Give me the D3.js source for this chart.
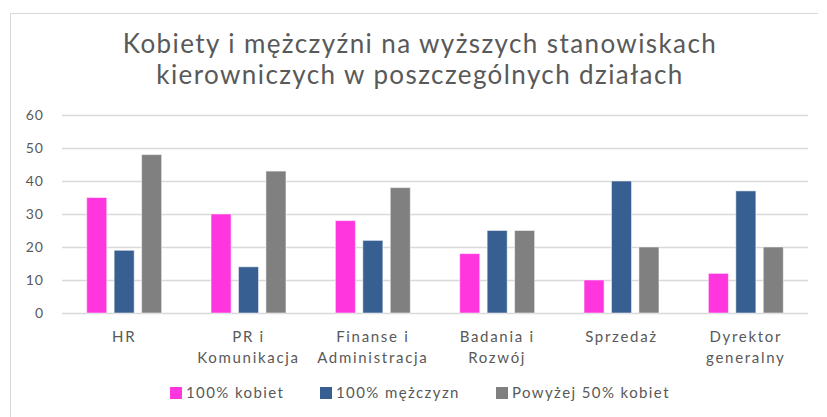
<!DOCTYPE html>
<html><head><meta charset="utf-8">
<script src="https://cdn.jsdelivr.net/npm/d3@7/dist/d3.min.js"></script>
<style>body{margin:0;background:#fff;} text{font-family:Lato,"Open Sans",sans-serif;}</style>
</head><body><svg id="c" width="827" height="417"></svg>
<script>
const categories = [["HR"],["PR i","Komunikacja"],["Finanse i","Administracja"],["Badania i","Rozwój"],["Sprzedaż"],["Dyrektor","generalny"]];
const seriesNames = ["100% kobiet","100% mężczyzn","Powyżej 50% kobiet"];
const women100 = [35,30,28,18,10,12];
const men100 = [19,14,22,25,40,37];
const womenOver50 = [48,43,38,25,20,20];
const yTicks = [0,10,20,30,40,50,60];
const colors = ["#FF35DE","#375F91","#808080"];
const titleLines = ["Kobiety i mężczyźni na wyższych stanowiskach","kierowniczych w poszczególnych działach"];

const svg = d3.select("#c");
const series = [women100, men100, womenOver50];
// frame
svg.append("line").attr("x1",10).attr("x2",818).attr("y1",13.5).attr("y2",13.5).attr("stroke","#d9d9d9");
svg.append("line").attr("x1",10.5).attr("x2",10.5).attr("y1",13).attr("y2",417).attr("stroke","#d9d9d9");

const x = d3.scaleBand().domain(d3.range(categories.length)).range([62,808]).paddingInner(0).paddingOuter(0);
const y = d3.scaleLinear().domain([0,60]).range([313,115]);
const inner = d3.scaleBand().domain([0,1,2]).range([0,x.bandwidth()]).paddingInner(0.27).paddingOuter(0.9);

// grid
svg.append("g").selectAll("line").data(yTicks).join("line")
  .attr("x1",62).attr("x2",808).attr("y1",d=>y(d)+0.5).attr("y2",d=>y(d)+0.5)
  .attr("stroke","#d9d9d9").attr("stroke-width",1.3);
svg.append("g").selectAll("text").data(yTicks).join("text")
  .attr("x",44).attr("y",d=>y(d)+5).attr("text-anchor","end")
  .attr("font-size",14).attr("letter-spacing",1).attr("fill","#595959").text(d=>d);

// bars
series.forEach((s,si)=>{
  svg.append("g").selectAll("rect").data(s).join("rect")
    .attr("x",(d,i)=>x(i)+inner(si)).attr("width",inner.bandwidth())
    .attr("y",d=>y(d)).attr("height",d=>y(0)-y(d))
    .attr("fill",colors[si]).attr("stroke","#ffffff").attr("stroke-opacity",0.5).attr("stroke-width",1);
});

// category labels
categories.forEach((lines,i)=>{
  const t = svg.append("text").attr("text-anchor","middle").attr("font-size",15)
    .attr("letter-spacing",1.7).attr("fill","#595959");
  lines.forEach((ln,j)=>t.append("tspan").attr("x",x(i)+x.bandwidth()/2).attr("y",342+j*21).text(ln));
});

// title
titleLines.forEach((ln,j)=>svg.append("text").attr("x",420).attr("y",53+j*31).attr("text-anchor","middle")
  .attr("font-size",26).attr("letter-spacing",1.4).attr("fill","#595959").text(ln));

// legend
const legX = [170,320,496];
seriesNames.forEach((n,i)=>{
  svg.append("rect").attr("x",legX[i]).attr("y",387).attr("width",12).attr("height",12).attr("fill",colors[i]);
  svg.append("text").attr("x",legX[i]+16).attr("y",398).attr("font-size",15).attr("letter-spacing",1.4)
    .attr("fill","#595959").text(n);
});
</script></body></html>
